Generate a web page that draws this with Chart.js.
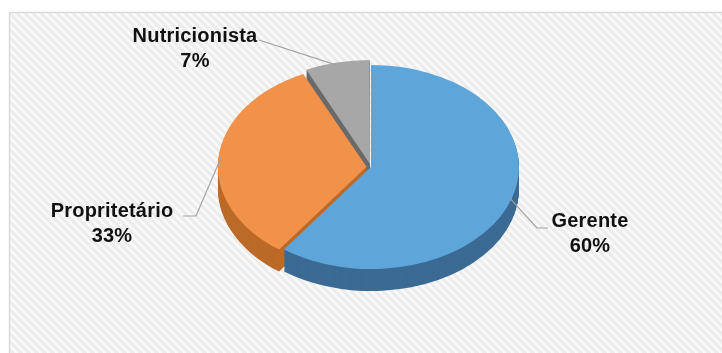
<!DOCTYPE html>
<html>
<head>
<meta charset="utf-8">
<script src="https://cdn.jsdelivr.net/npm/chart.js@4"></script>
<style>
  html, body { margin: 0; padding: 0; background: #fff; }
  #wrap { width: 722px; height: 353px; }
</style>
</head>
<body>
<div id="wrap"><canvas id="pieChart" width="722" height="353"></canvas></div>
<script>
// dados do gráfico
const categories = ['Gerente', 'Propritetário', 'Nutricionista'];
const shares = [60, 33, 7];
const shareLabels = ['60%', '33%', '7%'];

const topColors = ['#5ea6da', '#f2914a', '#a7a7a7'];
const sideColors = ['#3b6b94', '#bb6a28', '#6a6a6a'];
const explode = [0, 18, 18];

const tilt = 0.69;   // achatamento vertical da pizza
const depth = 22;    // espessura

// posição dos rótulos (texto) e cotovelo da linha guia
const labelLayout = [
  { text: [590, 221], elbow: [537, 228], end: [548, 228] },
  { text: [112, 211], elbow: [196, 216], end: [183, 216] },
  { text: [195, 36],  elbow: [259, 40],  end: [259, 40] }
];

// fundo listrado com moldura
function makeStripes() {
  const c = document.createElement('canvas');
  c.width = 8; c.height = 8;
  const g = c.getContext('2d');
  g.fillStyle = '#ececec';
  g.fillRect(0, 0, 8, 8);
  g.strokeStyle = '#fafafa';
  g.lineWidth = 2.5;
  g.beginPath();
  g.moveTo(-2, -2); g.lineTo(10, 10);
  g.moveTo(-6, 2); g.lineTo(6, 14);
  g.moveTo(2, -6); g.lineTo(14, 6);
  g.stroke();
  return c;
}

const backgroundPlugin = {
  id: 'fundo',
  beforeDraw(chart) {
    const ctx = chart.ctx;
    ctx.save();
    ctx.fillStyle = '#ffffff';
    ctx.fillRect(0, 0, chart.width, chart.height);
    ctx.fillStyle = ctx.createPattern(makeStripes(), 'repeat');
    ctx.fillRect(9, 12, chart.width, chart.height);
    ctx.strokeStyle = '#d9d9d9';
    ctx.lineWidth = 1.5;
    ctx.beginPath();
    ctx.moveTo(9.5, chart.height);
    ctx.lineTo(9.5, 12.5);
    ctx.lineTo(chart.width, 12.5);
    ctx.stroke();
    ctx.restore();
  }
};

function squash(ctx, el) {
  ctx.translate(el.x, el.y);
  ctx.scale(1, tilt);
  ctx.translate(-el.x, -el.y);
}

const pie3dPlugin = {
  id: 'pie3d',
  beforeDatasetsDraw(chart) {
    const ctx = chart.ctx;
    const arcs = chart.getDatasetMeta(0).data;
    // laterais
    for (let d = depth; d >= 1; d--) {
      arcs.forEach((el, i) => {
        const old = el.options.backgroundColor;
        el.options.backgroundColor = sideColors[i];
        ctx.save();
        ctx.translate(0, d);
        squash(ctx, el);
        el.draw(ctx);
        ctx.restore();
        el.options.backgroundColor = old;
      });
    }
    // topo
    arcs.forEach(el => {
      ctx.save();
      squash(ctx, el);
      el.draw(ctx);
      ctx.restore();
    });
    return false;
  },
  afterDraw(chart) {
    const ctx = chart.ctx;
    const arcs = chart.getDatasetMeta(0).data;
    ctx.save();
    arcs.forEach((el, i) => {
      const mid = (el.startAngle + el.endAngle) / 2;
      const off = (el.options.offset || 0) / 4;
      const r = el.outerRadius - 2;
      const ax = el.x + Math.cos(mid) * (r + off);
      const ay = el.y + Math.sin(mid) * (r + off) * tilt;
      const L = labelLayout[i];
      ctx.strokeStyle = '#a3a3a3';
      ctx.lineWidth = 1.2;
      ctx.beginPath();
      ctx.moveTo(ax, ay);
      ctx.lineTo(L.elbow[0], L.elbow[1]);
      ctx.lineTo(L.end[0], L.end[1]);
      ctx.stroke();

      ctx.fillStyle = '#111111';
      ctx.font = 'bold 20px "Liberation Sans", Arial, sans-serif';
      ctx.letterSpacing = '0.2px';
      ctx.textAlign = 'center';
      ctx.textBaseline = 'middle';
      ctx.fillText(categories[i], L.text[0], L.text[1]);
      ctx.fillText(shareLabels[i], L.text[0], L.text[1] + 25);
    });
    ctx.restore();
  }
};

const ctx = document.getElementById('pieChart').getContext('2d');
new Chart(ctx, {
  type: 'pie',
  data: {
    labels: categories,
    datasets: [{
      data: shares,
      backgroundColor: topColors,
      borderWidth: 0,
      offset: explode
    }]
  },
  options: {
    responsive: false,
    animation: false,
    events: [],
    rotation: 0,
    layout: { padding: { top: 10, bottom: 29, left: 100, right: 80 } },
    plugins: {
      legend: { display: false },
      tooltip: { enabled: false }
    }
  },
  plugins: [backgroundPlugin, pie3dPlugin]
});
</script>
</body>
</html>
